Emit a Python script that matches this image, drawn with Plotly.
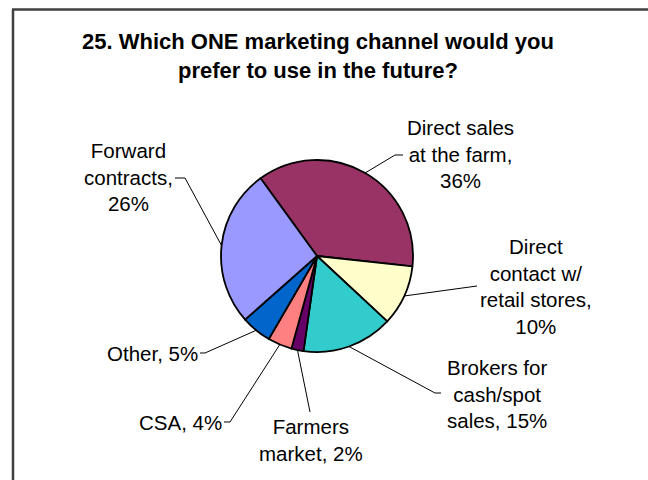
import math
import plotly.graph_objects as go

# Survey answers: preferred future marketing channel (percent of respondents)
channels = [
    "Direct sales<br>at the farm",
    "Direct<br>contact w/<br>retail stores",
    "Brokers for<br>cash/spot<br>sales",
    "Farmers<br>market",
    "CSA",
    "Other",
    "Forward<br>contracts",
]
shares = [36, 10, 15, 2, 4, 5, 26]
slice_colors = ["#993366", "#FFFFCC", "#33CCCC", "#660066", "#FF8080", "#0066CC", "#9999FF"]

# Label placement (pixels): text centre, separator before the value, leader elbow points
label_layout = [
    dict(center=(460, 154), sep=",<br>", leader=[(395, 155), (403, 155)]),
    dict(center=(536, 286), sep=",<br>", leader=[(477, 286)]),
    dict(center=(497, 394), sep=", ", leader=[(435, 393), (441, 393)]),
    dict(center=(311, 440), sep=", ", leader=[(310, 412)]),
    dict(center=(180, 422), sep=", ", leader=[(230, 422), (224, 422)]),
    dict(center=(152, 353), sep=", ", leader=[(205, 353), (200, 353)]),
    dict(center=(128, 177), sep=",<br>", leader=[(185, 178), (175, 178)]),
]

W, H = 648, 480
CX, CY, R = 317, 256, 96
ROTATION = -36
FONT = "Liberation Sans, Arial, sans-serif"


def px(x):
    return x / W


def py(y):
    return 1 - y / H


fig = go.Figure(
    go.Pie(
        labels=[c.replace("<br>", " ") for c in channels],
        values=shares,
        marker=dict(colors=slice_colors, line=dict(color="black", width=1.8)),
        sort=False,
        direction="clockwise",
        rotation=ROTATION,
        textinfo="none",
        hoverinfo="label+value",
        showlegend=False,
        domain=dict(x=[px(CX - R), px(CX + R)], y=[py(CY + R), py(CY - R)]),
    )
)

shapes = []
annotations = []
total = sum(shares)
cum = 0
for name, value, lay in zip(channels, shares, label_layout):
    mid = math.radians(ROTATION + 360 * (cum + value / 2) / total)
    cum += value
    pts = [(CX + R * math.sin(mid), CY - R * math.cos(mid))] + lay["leader"]
    for (x0, y0), (x1, y1) in zip(pts[:-1], pts[1:]):
        shapes.append(dict(type="line", xref="paper", yref="paper",
                           x0=px(x0), y0=py(y0), x1=px(x1), y1=py(y1),
                           line=dict(color="black", width=1)))
    tx, ty = lay["center"]
    annotations.append(dict(
        text=f"{name}{lay['sep']}{value}%", x=px(tx), y=py(ty),
        xref="paper", yref="paper", xanchor="center", yanchor="middle",
        showarrow=False, align="center",
        font=dict(family=FONT, size=20.5, color="black"),
    ))

annotations.append(dict(
    text="<b>25. Which ONE marketing channel would you<br>prefer to use in the future?</b>",
    x=px(318), y=py(56), xref="paper", yref="paper",
    xanchor="center", yanchor="middle", showarrow=False, align="center",
    font=dict(family=FONT, size=22, color="black"),
))

# Chart frame (left and top edges), running off the page at the right and bottom
frame = dict(color="#404040", width=2.5)
shapes.append(dict(type="line", xref="paper", yref="paper",
                   x0=px(13), y0=py(520), x1=px(13), y1=py(9.5), line=frame))
shapes.append(dict(type="line", xref="paper", yref="paper",
                   x0=px(12), y0=py(9.5), x1=px(720), y1=py(9.5), line=frame))

fig.update_layout(
    width=W, height=H, autosize=False,
    margin=dict(l=0, r=0, t=0, b=0),
    paper_bgcolor="white", plot_bgcolor="white",
    shapes=shapes, annotations=annotations,
)

fig.write_html("out.html", config={"displayModeBar": False})
